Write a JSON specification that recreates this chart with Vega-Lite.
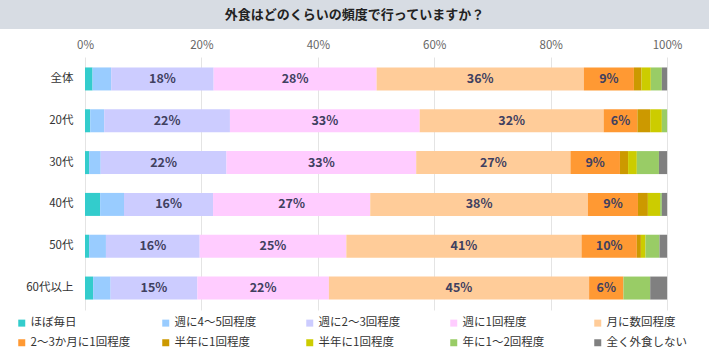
{
  "$schema": "https://vega.github.io/schema/vega-lite/v6.json",
  "padding": 0,
  "background": "white",
  "spacing": 0,
  "config": {
    "font": "Noto Sans CJK JP",
    "view": {"stroke": null},
    "legend": {
      "orient": "none",
      "legendX": 16,
      "legendY": 317,
      "columns": 5,
      "direction": "horizontal",
      "gridAlign": "all",
      "columnPadding": 29,
      "rowPadding": 7,
      "symbolType": "square",
      "symbolSize": 49,
      "symbolStrokeWidth": 0,
      "labelFontSize": 11.5,
      "labelColor": "#333333",
      "labelOffset": 3,
      "labelLimit": 300
    }
  },
  "vconcat": [
    {
      "width": 709,
      "height": 29,
      "view": {"fill": "#D7DCE3", "stroke": null},
      "data": {"values": [{"title": "外食はどのくらいの頻度で行っていますか？"}]},
      "mark": {"type": "text", "fontWeight": "bold", "fontSize": 13, "color": "#222222"},
      "encoding": {"text": {"field": "title"}}
    },
    {
      "width": 709,
      "height": 253,
      "data": {
        "values": [
          {"g": "全体", "c": "ほぼ毎日", "o": 1, "v": 1.3, "t": ""},
          {"g": "全体", "c": "週に4～5回程度", "o": 2, "v": 3.2, "t": ""},
          {"g": "全体", "c": "週に2～3回程度", "o": 3, "v": 17.6, "t": "18%"},
          {"g": "全体", "c": "週に1回程度", "o": 4, "v": 28.0, "t": "28%"},
          {"g": "全体", "c": "月に数回程度", "o": 5, "v": 35.6, "t": "36%"},
          {"g": "全体", "c": "2～3か月に1回程度", "o": 6, "v": 8.6, "t": "9%"},
          {"g": "全体", "c": "半年に1回程度", "o": 7, "v": 1.3, "t": ""},
          {"g": "全体", "c": "半年に1回程度 ", "o": 8, "v": 1.6, "t": ""},
          {"g": "全体", "c": "年に1～2回程度", "o": 9, "v": 1.9, "t": ""},
          {"g": "全体", "c": "全く外食しない", "o": 10, "v": 0.9, "t": ""},

          {"g": "20代", "c": "ほぼ毎日", "o": 1, "v": 0.9, "t": ""},
          {"g": "20代", "c": "週に4～5回程度", "o": 2, "v": 2.4, "t": ""},
          {"g": "20代", "c": "週に2～3回程度", "o": 3, "v": 21.6, "t": "22%"},
          {"g": "20代", "c": "週に1回程度", "o": 4, "v": 32.6, "t": "33%"},
          {"g": "20代", "c": "月に数回程度", "o": 5, "v": 31.6, "t": "32%"},
          {"g": "20代", "c": "2～3か月に1回程度", "o": 6, "v": 5.8, "t": "6%"},
          {"g": "20代", "c": "半年に1回程度", "o": 7, "v": 2.2, "t": ""},
          {"g": "20代", "c": "半年に1回程度 ", "o": 8, "v": 2.0, "t": ""},
          {"g": "20代", "c": "年に1～2回程度", "o": 9, "v": 0.9, "t": ""},

          {"g": "30代", "c": "ほぼ毎日", "o": 1, "v": 0.7, "t": ""},
          {"g": "30代", "c": "週に4～5回程度", "o": 2, "v": 2.0, "t": ""},
          {"g": "30代", "c": "週に2～3回程度", "o": 3, "v": 21.6, "t": "22%"},
          {"g": "30代", "c": "週に1回程度", "o": 4, "v": 32.6, "t": "33%"},
          {"g": "30代", "c": "月に数回程度", "o": 5, "v": 26.5, "t": "27%"},
          {"g": "30代", "c": "2～3か月に1回程度", "o": 6, "v": 8.5, "t": "9%"},
          {"g": "30代", "c": "半年に1回程度", "o": 7, "v": 1.4, "t": ""},
          {"g": "30代", "c": "半年に1回程度 ", "o": 8, "v": 1.5, "t": ""},
          {"g": "30代", "c": "年に1～2回程度", "o": 9, "v": 3.8, "t": ""},
          {"g": "30代", "c": "全く外食しない", "o": 10, "v": 1.4, "t": ""},

          {"g": "40代", "c": "ほぼ毎日", "o": 1, "v": 2.6, "t": ""},
          {"g": "40代", "c": "週に4～5回程度", "o": 2, "v": 4.1, "t": ""},
          {"g": "40代", "c": "週に2～3回程度", "o": 3, "v": 15.3, "t": "16%"},
          {"g": "40代", "c": "週に1回程度", "o": 4, "v": 27.0, "t": "27%"},
          {"g": "40代", "c": "月に数回程度", "o": 5, "v": 37.4, "t": "38%"},
          {"g": "40代", "c": "2～3か月に1回程度", "o": 6, "v": 8.6, "t": "9%"},
          {"g": "40代", "c": "半年に1回程度", "o": 7, "v": 1.7, "t": ""},
          {"g": "40代", "c": "半年に1回程度 ", "o": 8, "v": 2.1, "t": ""},
          {"g": "40代", "c": "年に1～2回程度", "o": 9, "v": 0.3, "t": ""},
          {"g": "40代", "c": "全く外食しない", "o": 10, "v": 0.9, "t": ""},

          {"g": "50代", "c": "ほぼ毎日", "o": 1, "v": 0.7, "t": ""},
          {"g": "50代", "c": "週に4～5回程度", "o": 2, "v": 2.9, "t": ""},
          {"g": "50代", "c": "週に2～3回程度", "o": 3, "v": 16.1, "t": "16%"},
          {"g": "50代", "c": "週に1回程度", "o": 4, "v": 25.2, "t": "25%"},
          {"g": "50代", "c": "月に数回程度", "o": 5, "v": 40.4, "t": "41%"},
          {"g": "50代", "c": "2～3か月に1回程度", "o": 6, "v": 9.5, "t": "10%"},
          {"g": "50代", "c": "半年に1回程度", "o": 7, "v": 0.7, "t": ""},
          {"g": "50代", "c": "半年に1回程度 ", "o": 8, "v": 0.8, "t": ""},
          {"g": "50代", "c": "年に1～2回程度", "o": 9, "v": 2.4, "t": ""},
          {"g": "50代", "c": "全く外食しない", "o": 10, "v": 1.3, "t": ""},

          {"g": "60代以上", "c": "ほぼ毎日", "o": 1, "v": 1.4, "t": ""},
          {"g": "60代以上", "c": "週に4～5回程度", "o": 2, "v": 3.0, "t": ""},
          {"g": "60代以上", "c": "週に2～3回程度", "o": 3, "v": 14.9, "t": "15%"},
          {"g": "60代以上", "c": "週に1回程度", "o": 4, "v": 22.6, "t": "22%"},
          {"g": "60代以上", "c": "月に数回程度", "o": 5, "v": 44.7, "t": "45%"},
          {"g": "60代以上", "c": "2～3か月に1回程度", "o": 6, "v": 5.9, "t": "6%"},
          {"g": "60代以上", "c": "年に1～2回程度", "o": 9, "v": 4.6, "t": ""},
          {"g": "60代以上", "c": "全く外食しない", "o": 10, "v": 2.9, "t": ""}
        ]
      },
      "encoding": {
        "y": {
          "field": "g",
          "type": "nominal",
          "sort": ["全体", "20代", "30代", "40代", "50代", "60代以上"],
          "scale": {"paddingInner": 0.45, "paddingOuter": 0.25},
          "axis": {
            "title": null,
            "domain": false,
            "ticks": false,
            "grid": false,
            "offset": -85,
            "labelPadding": 12,
            "labelFontSize": 11.5,
            "labelColor": "#333333"
          }
        },
        "x": {
          "field": "v",
          "type": "quantitative",
          "stack": "zero",
          "scale": {"domain": [-14.6, 107.2], "nice": false, "zero": false},
          "axis": {
            "orient": "top",
            "title": null,
            "domain": false,
            "ticks": false,
            "grid": true,
            "gridColor": "#E4E4E4",
            "values": [0, 20, 40, 60, 80, 100],
            "labelExpr": "datum.value + '%'",
            "labelFlush": false,
            "labelPadding": 7,
            "labelFontSize": 11.5,
            "labelColor": "#666666",
            "minExtent": 28,
            "maxExtent": 28
          }
        },
        "order": {"field": "o", "type": "quantitative"}
      },
      "layer": [
        {
          "mark": {"type": "bar"},
          "encoding": {
            "color": {
              "field": "c",
              "type": "nominal",
              "title": null,
              "scale": {
                "domain": ["ほぼ毎日", "週に4～5回程度", "週に2～3回程度", "週に1回程度", "月に数回程度", "2～3か月に1回程度", "半年に1回程度", "半年に1回程度 ", "年に1～2回程度", "全く外食しない"],
                "range": ["#33CCCC", "#99CCFF", "#CCCCFF", "#FFCCFF", "#FFCC99", "#FF9933", "#CC9900", "#CCCC00", "#99CC66", "#808080"]
              }
            }
          }
        },
        {
          "mark": {"type": "text", "fontWeight": "bold", "fontSize": 12.5, "color": "#404060"},
          "encoding": {
            "x": {"field": "v", "type": "quantitative", "stack": "zero", "bandPosition": 0.5},
            "text": {"field": "t"}
          }
        }
      ]
    }
  ]
}
